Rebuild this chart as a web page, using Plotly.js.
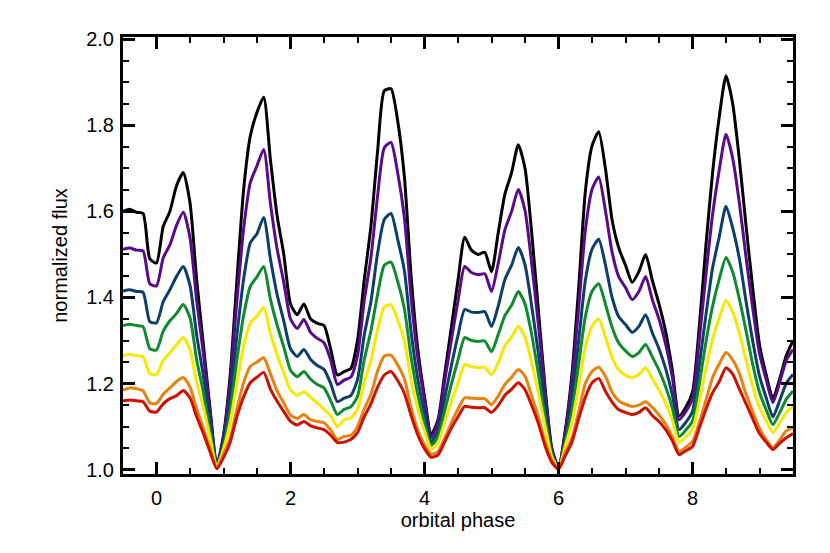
<!DOCTYPE html>
<html><head><meta charset="utf-8">
<script src="https://cdn.plot.ly/plotly-3.0.1.min.js"></script>
<style>body{margin:0;background:#fff}#chart{width:830px;height:553px}</style>
</head><body><div id="chart"></div>
<script>
const phase = [-0.5,-0.4,-0.3,-0.2,-0.1,0.0,0.1,0.2,0.3,0.4,0.5,0.6,0.7,0.8,0.9,1.0,1.1,1.2,1.3,1.4,1.5,1.6,1.7,1.8,1.9,2.0,2.1,2.2,2.3,2.4,2.5,2.6,2.7,2.8,2.9,3.0,3.1,3.2,3.3,3.4,3.5,3.6,3.7,3.8,3.9,4.0,4.1,4.2,4.3,4.4,4.5,4.6,4.7,4.8,4.9,5.0,5.1,5.2,5.3,5.4,5.5,5.6,5.7,5.8,5.9,6.0,6.1,6.2,6.3,6.4,6.5,6.6,6.7,6.8,6.9,7.0,7.1,7.2,7.3,7.4,7.5,7.6,7.7,7.8,7.9,8.0,8.1,8.2,8.3,8.4,8.5,8.6,8.7,8.8,8.9,9.0,9.1,9.2,9.3,9.4,9.5];

const fluxBlack = [1.600,1.605,1.598,1.595,1.490,1.480,1.565,1.600,1.660,1.690,1.620,1.440,1.290,1.140,1.010,1.080,1.220,1.440,1.650,1.775,1.830,1.865,1.720,1.590,1.500,1.385,1.360,1.385,1.350,1.340,1.335,1.280,1.220,1.228,1.235,1.300,1.440,1.565,1.740,1.880,1.885,1.810,1.680,1.450,1.280,1.170,1.082,1.115,1.220,1.330,1.440,1.540,1.510,1.500,1.505,1.460,1.550,1.640,1.690,1.755,1.700,1.550,1.370,1.190,1.050,1.005,1.090,1.220,1.420,1.645,1.752,1.785,1.700,1.580,1.515,1.475,1.435,1.460,1.500,1.440,1.385,1.320,1.230,1.125,1.145,1.180,1.330,1.520,1.690,1.820,1.915,1.850,1.720,1.565,1.420,1.290,1.220,1.165,1.210,1.265,1.300];

const fluxPurple = [1.512,1.515,1.510,1.508,1.432,1.427,1.492,1.522,1.568,1.598,1.539,1.392,1.270,1.133,1.010,1.076,1.205,1.392,1.559,1.667,1.706,1.744,1.619,1.513,1.435,1.350,1.328,1.349,1.319,1.305,1.295,1.255,1.198,1.208,1.215,1.265,1.392,1.492,1.636,1.748,1.760,1.689,1.585,1.401,1.260,1.162,1.075,1.108,1.205,1.300,1.392,1.472,1.458,1.453,1.455,1.414,1.479,1.557,1.600,1.651,1.602,1.479,1.337,1.181,1.047,1.004,1.085,1.205,1.374,1.555,1.651,1.680,1.602,1.505,1.448,1.423,1.395,1.414,1.449,1.395,1.350,1.291,1.214,1.116,1.135,1.165,1.300,1.452,1.593,1.697,1.779,1.723,1.619,1.492,1.374,1.270,1.209,1.156,1.202,1.254,1.279];

const fluxBlue = [1.415,1.418,1.414,1.412,1.344,1.341,1.390,1.418,1.449,1.472,1.428,1.312,1.218,1.108,1.009,1.064,1.165,1.312,1.442,1.527,1.548,1.586,1.490,1.407,1.345,1.281,1.263,1.279,1.256,1.242,1.233,1.200,1.158,1.166,1.172,1.209,1.312,1.390,1.503,1.581,1.595,1.535,1.462,1.320,1.210,1.131,1.065,1.090,1.165,1.241,1.312,1.372,1.366,1.365,1.367,1.333,1.380,1.442,1.475,1.516,1.476,1.380,1.270,1.146,1.040,1.004,1.072,1.165,1.298,1.439,1.512,1.535,1.476,1.400,1.355,1.337,1.319,1.333,1.360,1.318,1.281,1.234,1.173,1.093,1.110,1.135,1.241,1.359,1.469,1.541,1.612,1.561,1.490,1.390,1.298,1.218,1.167,1.123,1.160,1.201,1.221];

const fluxGreen = [1.335,1.338,1.335,1.332,1.281,1.278,1.322,1.346,1.363,1.384,1.353,1.255,1.180,1.090,1.008,1.056,1.136,1.255,1.358,1.426,1.448,1.472,1.396,1.336,1.285,1.231,1.216,1.228,1.210,1.198,1.190,1.160,1.128,1.140,1.146,1.170,1.255,1.322,1.407,1.475,1.482,1.437,1.374,1.261,1.174,1.109,1.057,1.076,1.136,1.198,1.255,1.307,1.300,1.298,1.299,1.274,1.314,1.358,1.382,1.414,1.385,1.314,1.222,1.122,1.035,1.003,1.063,1.136,1.244,1.355,1.414,1.432,1.385,1.331,1.294,1.276,1.263,1.272,1.291,1.262,1.231,1.192,1.143,1.077,1.092,1.113,1.198,1.296,1.380,1.443,1.493,1.459,1.396,1.322,1.244,1.180,1.139,1.105,1.132,1.164,1.183];

const fluxYellow = [1.265,1.268,1.265,1.262,1.223,1.221,1.254,1.272,1.290,1.307,1.279,1.202,1.145,1.074,1.006,1.048,1.110,1.202,1.286,1.341,1.357,1.377,1.317,1.266,1.225,1.185,1.173,1.181,1.168,1.155,1.140,1.125,1.100,1.116,1.120,1.140,1.202,1.254,1.326,1.378,1.383,1.348,1.299,1.207,1.140,1.090,1.048,1.062,1.110,1.158,1.202,1.244,1.239,1.237,1.238,1.221,1.248,1.288,1.308,1.333,1.308,1.248,1.178,1.101,1.030,1.003,1.054,1.110,1.193,1.284,1.333,1.350,1.308,1.261,1.232,1.219,1.214,1.221,1.237,1.211,1.185,1.154,1.115,1.063,1.076,1.094,1.158,1.234,1.304,1.353,1.393,1.366,1.317,1.254,1.193,1.145,1.114,1.086,1.107,1.133,1.147];

const fluxOrange = [1.185,1.190,1.188,1.183,1.155,1.154,1.175,1.190,1.205,1.214,1.192,1.141,1.096,1.048,1.004,1.036,1.073,1.141,1.202,1.240,1.250,1.260,1.223,1.183,1.155,1.127,1.119,1.128,1.116,1.112,1.109,1.092,1.070,1.077,1.080,1.100,1.141,1.175,1.229,1.264,1.266,1.243,1.211,1.144,1.092,1.058,1.036,1.042,1.073,1.109,1.141,1.167,1.166,1.165,1.165,1.151,1.171,1.198,1.215,1.233,1.217,1.171,1.122,1.065,1.022,1.002,1.040,1.073,1.134,1.200,1.228,1.238,1.217,1.180,1.160,1.152,1.147,1.150,1.158,1.145,1.127,1.106,1.076,1.042,1.052,1.066,1.109,1.161,1.214,1.246,1.272,1.255,1.223,1.175,1.134,1.096,1.070,1.051,1.069,1.090,1.098];

const fluxRed = [1.160,1.162,1.160,1.158,1.136,1.134,1.153,1.165,1.172,1.184,1.167,1.123,1.084,1.041,1.002,1.028,1.064,1.123,1.169,1.202,1.215,1.226,1.187,1.159,1.135,1.112,1.104,1.112,1.102,1.097,1.093,1.080,1.063,1.064,1.070,1.086,1.123,1.153,1.192,1.220,1.228,1.207,1.177,1.126,1.081,1.049,1.029,1.034,1.064,1.096,1.123,1.147,1.145,1.144,1.144,1.133,1.149,1.173,1.187,1.202,1.186,1.149,1.107,1.055,1.017,1.001,1.032,1.064,1.118,1.168,1.202,1.212,1.182,1.157,1.139,1.133,1.128,1.133,1.144,1.126,1.112,1.093,1.067,1.035,1.044,1.054,1.096,1.140,1.179,1.205,1.237,1.222,1.187,1.153,1.118,1.084,1.064,1.047,1.061,1.074,1.084];

const seriesList = [fluxBlack, fluxPurple, fluxBlue, fluxGreen, fluxYellow, fluxOrange, fluxRed];
const seriesColors = ['#000000','#5c0a8c','#0b3e6b','#0f8a2e','#f5e900','#e6820e','#cc1100'];

const traces = seriesList.map((ys, i) => ({
  x: phase, y: ys, type: 'scatter', mode: 'lines',
  line: {color: seriesColors[i], width: 3, shape: 'spline', smoothing: 0.6},
  hoverinfo: 'skip', showlegend: false
}));

const fontFam = 'Liberation Sans, Arial, Helvetica, sans-serif';
const axisCommon = {
  showgrid: false, zeroline: false, showline: true, linecolor: '#000', linewidth: 3,
  ticks: 'inside', ticklen: 12, tickwidth: 3, tickcolor: '#000', mirror: 'ticks',
  tickfont: {family: fontFam, size: 20, color: '#000'}
};
const layout = {
  width: 830, height: 553,
  margin: {l: 123, r: 37, t: 37, b: 79},
  paper_bgcolor: '#fff', plot_bgcolor: '#fff',
  xaxis: Object.assign({}, axisCommon, {
    range: [-0.5, 9.5], tick0: 0, dtick: 2, ticklabelstandoff: 4,
    minor: {dtick: 0.5, tick0: 0, ticks: 'inside', ticklen: 6, tickwidth: 2, tickcolor: '#000'},
    title: {text: 'orbital phase', font: {family: fontFam, size: 20, color: '#000'}, standoff: 4}
  }),
  yaxis: Object.assign({}, axisCommon, {
    range: [0.99, 2.005], tick0: 1.0, dtick: 0.2, tickformat: '.1f', ticklabelstandoff: 2,
    minor: {dtick: 0.05, tick0: 1.0, ticks: 'inside', ticklen: 6, tickwidth: 2, tickcolor: '#000'},
    title: {text: 'normalized flux', font: {family: fontFam, size: 20, color: '#000'}, standoff: 14}
  })
};
Plotly.newPlot('chart', traces, layout, {displayModeBar: false, staticPlot: true});
</script>
</body></html>
